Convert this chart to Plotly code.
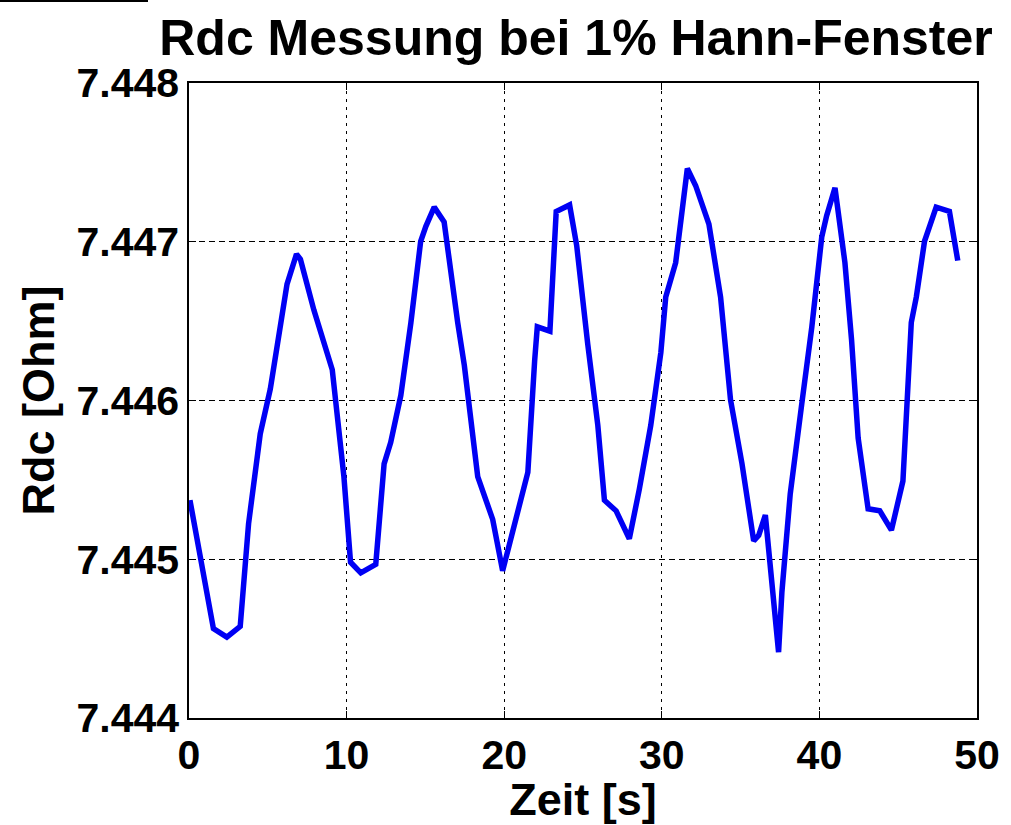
import plotly.graph_objects as go

# Zeitpunkte [s] und gemessener Gleichstromwiderstand [Ohm]
zeit = [0.06, 1.55, 2.4, 3.25, 3.78, 4.52, 5.16, 5.8, 6.22, 6.82, 7.07, 7.92, 8.56, 9.09,
        9.83, 10.25, 10.9, 11.85, 12.38, 12.8, 13.44, 14.08, 14.7, 15.03, 15.56, 16.19,
        17.05, 17.47, 18.32, 19.27, 19.9, 20.6, 21.5, 21.93, 22.1, 22.9, 23.3, 24.15,
        24.6, 25.3, 25.94, 26.36, 27.1, 27.94, 28.57, 29.3, 29.94, 30.25, 30.88, 31.62,
        32.15, 32.99, 33.73, 34.36, 35.09, 35.83, 36.15, 36.57, 36.99, 37.41, 37.62,
        38.15, 38.88, 39.52, 40.15, 40.46, 40.99, 41.62, 42.04, 42.46, 43.09, 43.83,
        44.57, 45.3, 45.83, 46.15, 46.67, 47.41, 48.25, 48.78]
rdc = [7.445372, 7.444563, 7.444510, 7.444577, 7.445224, 7.445790, 7.446073, 7.446491,
       7.446733, 7.446922, 7.446890, 7.446571, 7.446356, 7.446194, 7.445520, 7.444981,
       7.444914, 7.444968, 7.445601, 7.445736, 7.446032, 7.446491, 7.447003, 7.447097,
       7.447218, 7.447124, 7.446491, 7.446221, 7.445520, 7.445251, 7.444927, 7.445197,
       7.445547, 7.446248, 7.446464, 7.446437, 7.447191, 7.447232, 7.446976, 7.446356,
       7.445844, 7.445372, 7.445305, 7.445129, 7.445439, 7.445844, 7.446302, 7.446652,
       7.446868, 7.447461, 7.447353, 7.447111, 7.446652, 7.446005, 7.445601, 7.445116,
       7.445150, 7.445278, 7.444846, 7.444415, 7.444792, 7.445412, 7.445978, 7.446464,
       7.447030, 7.447164, 7.447340, 7.446868, 7.446383, 7.445763, 7.445318, 7.445305,
       7.445183, 7.445493, 7.446491, 7.446652, 7.447003, 7.447218, 7.447191, 7.446881]

x_ticks = [0, 10, 20, 30, 40, 50]
y_ticks = [7.444, 7.445, 7.446, 7.447, 7.448]
y_tick_text = ["7.444", "7.445", "7.446", "7.447", "7.448"]

font_family = "Liberation Sans, Arial, sans-serif"

fig = go.Figure()
fig.add_trace(go.Scatter(
    x=zeit, y=rdc, mode="lines",
    line=dict(color="#0000f4", width=5.5),
    showlegend=False,
))

axis_common = dict(
    showline=True, linecolor="black", linewidth=1.5, mirror="ticks",
    ticks="inside", ticklen=7, tickcolor="black", tickwidth=1,
    showgrid=True, gridcolor="black", gridwidth=1,
    zeroline=False,
    tickfont=dict(family=font_family, size=41, color="black", weight="bold"),
)

fig.update_layout(
    width=1011, height=825,
    margin=dict(l=189, r=34, t=83, b=107),
    paper_bgcolor="white", plot_bgcolor="white",
    font=dict(family=font_family, color="black"),
    title=dict(
        text="<b>Rdc Messung bei 1% Hann-Fenster</b>",
        font=dict(family=font_family, size=50, color="black"),
        x=576 / 1011, xanchor="center", xref="container",
        y=1 - 37 / 825, yanchor="middle", yref="container",
    ),
    xaxis=dict(
        **axis_common,
        range=[0, 50], tickvals=x_ticks, ticktext=[str(v) for v in x_ticks],
        griddash="3px,5px",
        title=dict(text="<b>Zeit [s]</b>",
                   font=dict(family=font_family, size=45, color="black"),
                   standoff=2),
    ),
    yaxis=dict(
        **axis_common,
        range=[7.444, 7.448], tickvals=y_ticks, ticktext=y_tick_text,
        griddash="6px,4px",
        title=dict(text="<b>Rdc [Ohm]</b>",
                   font=dict(family=font_family, size=45, color="black"),
                   standoff=8),
    ),
    shapes=[dict(
        type="line", xref="paper", yref="paper",
        x0=-189 / 788, x1=-41 / 788, y0=717 / 635, y1=717 / 635,
        line=dict(color="black", width=2),
    )],
)

fig.write_html("out.html")
